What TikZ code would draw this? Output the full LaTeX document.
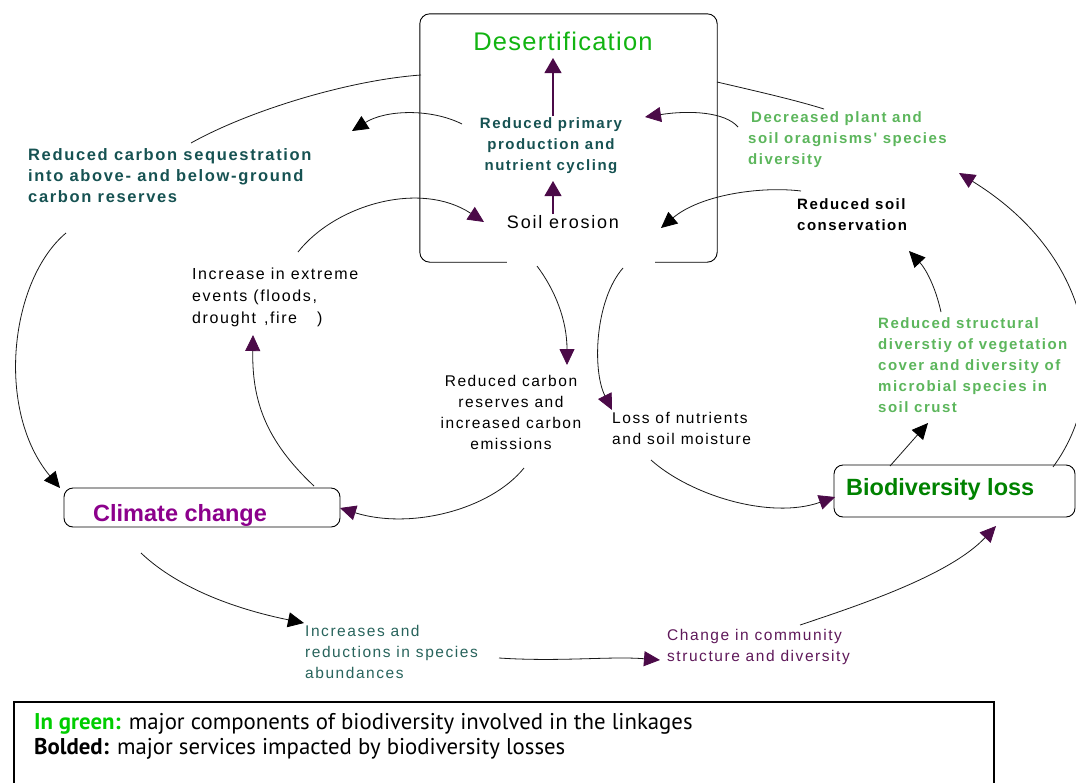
\documentclass[tikz,border=0pt]{standalone}
\usepackage{fontspec}
\setmainfont{Liberation Sans}
\newfontfamily\lsfont{Liberation Sans}[LetterSpace=10]
\newfontfamily\titlefont{Liberation Sans}[LetterSpace=5]
\newfontfamily\keyfont{PT Sans}
\usetikzlibrary{arrows.meta}

\definecolor{desgreen}{RGB}{18,180,18}
\definecolor{biogreen}{RGB}{0,130,0}
\definecolor{keygreen}{RGB}{0,205,0}
\definecolor{climpurple}{RGB}{140,0,140}
\definecolor{darkteal}{RGB}{22,82,82}
\definecolor{softgreen}{RGB}{92,182,92}
\definecolor{incteal}{RGB}{40,100,92}
\definecolor{chgpurple}{RGB}{95,25,90}
\definecolor{headpurple}{RGB}{75,10,72}

\begin{document}
\begin{tikzpicture}[x=1pt,y=-1pt,
  link/.style={draw=black!90, line width=0.8pt},
  pto/.style={link,-{Triangle[length=16pt,width=15pt,color=headpurple]}},
  bto/.style={link,-{Triangle[length=16pt,width=15pt,color=black]}},
  vertpto/.style={draw=headpurple, line width=1.1pt,-{Triangle[length=15pt,width=17pt,color=headpurple]}},
  txt/.style={inner sep=0pt, align=left, anchor=west},
  boldsmall/.style={font={\lsfont\bfseries\fontsize{15}{21}\selectfont}},
  plain/.style={font={\lsfont\fontsize{15.5}{21}\selectfont}},
  frame/.style={draw=black, line width=0.9pt, rounded corners=9pt, inner sep=0pt}]

\useasboundingbox (0,0) rectangle (1076,782);
\fill[white] (0,0) rectangle (1076,782);

% --- central box: desertification ---
\node[inner sep=0pt, minimum width=297pt, minimum height=248pt] (desbox) at (568.5,138) {};
\draw[line width=0.9pt, rounded corners=10pt]
  ([xshift=87pt]desbox.south west) -| (desbox.north west) -| (desbox.south east)
  -- ([xshift=-62pt]desbox.south east);
\node[inner sep=0pt, text=desgreen, font={\titlefont\fontsize{25.5}{30}\selectfont}] (des) at (563,41) {Desertification};
\node[inner sep=0pt, align=center, text=darkteal, boldsmall] (rpp) at (551,146)
  {Reduced primary\\production and\\nutrient cycling};
\node[inner sep=0pt, font={\lsfont\fontsize{18}{22}\selectfont}] (soil) at (563,222) {Soil erosion};

% --- side boxes ---
\node[frame, minimum width=276pt, minimum height=39pt] (climbox) at (202,507.5) {};
\node[txt, text=climpurple, font={\bfseries\fontsize{23.5}{28}\selectfont}] (clim) at (93,515) {Climate change};
\node[frame, minimum width=241pt, minimum height=52pt] (biobox) at (954.5,491) {};
\node[txt, text=biogreen, font={\bfseries\fontsize{23.5}{28}\selectfont}] (bio) at (846,489) {Biodiversity loss};

% --- annotations ---
\node[txt, text=darkteal, font={\lsfont\bfseries\fontsize{16.5}{21}\selectfont}] (rcs) at (28,176)
  {Reduced carbon sequestration\\into above- and below-ground\\carbon reserves};
\node[txt, text=softgreen, boldsmall] (dpl) at (748,140)
  {\hspace{3pt}Decreased plant and\\soil oragnisms' species\\diversity};
\node[txt, boldsmall] (rsc) at (797,215) {Reduced soil\\conservation};
\node[txt, font={\lsfont\fontsize{16}{22}\selectfont}] (iee) at (192,297)
  {Increase in extreme\\events (floods,\\drought\hspace{8pt},fire\hspace{20pt})};
\node[inner sep=0pt, align=center, plain] (rcr) at (511,412.5)
  {Reduced carbon\\reserves and\\increased carbon\\emissions};
\node[txt, plain] (lon) at (612,428.5) {Loss of nutrients\\and soil moisture};
\node[txt, text=softgreen, boldsmall] (rsd) at (878,365)
  {Reduced structural\\diverstiy of vegetation\\cover and diversity of\\microbial species in\\soil crust};
\node[txt, text=incteal, plain] (inc) at (305,652) {Increases and\\reductions in species\\abundances};
\node[txt, text=chgpurple, plain] (chg) at (667,647) {Change in community\\structure and diversity};

% --- key ---
\draw[line width=1.1pt] (14,792) |- (994,702) -- (994,792);
\node[txt, font={\keyfont\fontsize{22.8}{25}\selectfont}] (key) at (34,736)
  {\textbf{\color{keygreen}In green:} major components of biodiversity involved in the linkages\\
   \textbf{Bolded:} major services impacted by biodiversity losses};

% --- connector end points ---
\coordinate (rppTop) at (553,116);
\coordinate (desBot) at (553,58);
\coordinate (soilTop) at (553,214);
\coordinate (rppBot) at (553,181);
\coordinate (rppL) at (462,124);
\coordinate (rppLend) at (352,131);
\coordinate (desL) at (421,75);
\coordinate (rcsTop) at (191,143);
\coordinate (ieeTop) at (298,252);
\coordinate (soilL) at (484,222);
\coordinate (desR) at (717,82);
\coordinate (dplTop) at (824,109);
\coordinate (dplL) at (738,127);
\coordinate (rppR) at (645,117);
\coordinate (rscL) at (801,191);
\coordinate (soilR) at (661,228);
\coordinate (bioR) at (1053,467);
\coordinate (dplBot) at (959,173);
\coordinate (rsdTop) at (941,312);
\coordinate (rscBot) at (909,251);
\coordinate (bioTop) at (890,466);
\coordinate (rsdBot) at (928,423);
\coordinate (desB1) at (537,266);
\coordinate (rcrTop) at (567,365);
\coordinate (desB2) at (623,268);
\coordinate (lonTop) at (612,410);
\coordinate (lonBot) at (651,460);
\coordinate (bioL) at (835,497);
\coordinate (rcrBot) at (524,468);
\coordinate (climR) at (340,508);
\coordinate (climTop) at (314,486);
\coordinate (ieeBot) at (253,335);
\coordinate (rcsBot) at (66,233);
\coordinate (climTL) at (60,488);
\coordinate (climBot) at (141,553);
\coordinate (incTL) at (304,623);
\coordinate (incR) at (499,658);
\coordinate (chgL) at (660,660);
\coordinate (chgR) at (800,625);
\coordinate (bioBot) at (996,526);

% --- connectors ---
\draw[vertpto] (rppTop) -- (desBot);
\draw[vertpto] (soilTop) -- (rppBot);
\draw[bto] (rppL) .. controls (430,108) and (385,110) .. (rppLend);
\draw[link] (desL) .. controls (350,80) and (250,110) .. (rcsTop);
\draw[pto] (ieeTop) .. controls (335,205) and (420,180) .. (soilL);
\draw[link] (desR) .. controls (760,92) and (795,100) .. (dplTop);
\draw[pto] (dplL) .. controls (725,112) and (690,110) .. (rppR);
\draw[bto] (rscL) .. controls (760,186) and (700,195) .. (soilR);
\draw[pto] (bioR) .. controls (1110,390) and (1100,260) .. (dplBot);
\draw[bto] (rsdTop) .. controls (935,285) and (925,268) .. (rscBot);
\draw[bto] (bioTop) -- (rsdBot);
\draw[pto] (desB1) .. controls (555,290) and (567,320) .. (rcrTop);
\draw[pto] (desB2) .. controls (595,300) and (592,370) .. (lonTop);
\draw[pto] (lonBot) .. controls (690,495) and (770,520) .. (bioL);
\draw[pto] (rcrBot) .. controls (490,510) and (410,530) .. (climR);
\draw[pto] (climTop) .. controls (265,440) and (252,400) .. (ieeBot);
\draw[bto] (rcsBot) .. controls (10,280) and (-5,410) .. (climTL);
\draw[bto] (climBot) .. controls (180,590) and (240,610) .. (incTL);
\draw[pto] (incR) .. controls (560,662) and (610,656) .. (chgL);
\draw[pto] (chgR) .. controls (860,605) and (950,575) .. (bioBot);
\end{tikzpicture}
\end{document}
